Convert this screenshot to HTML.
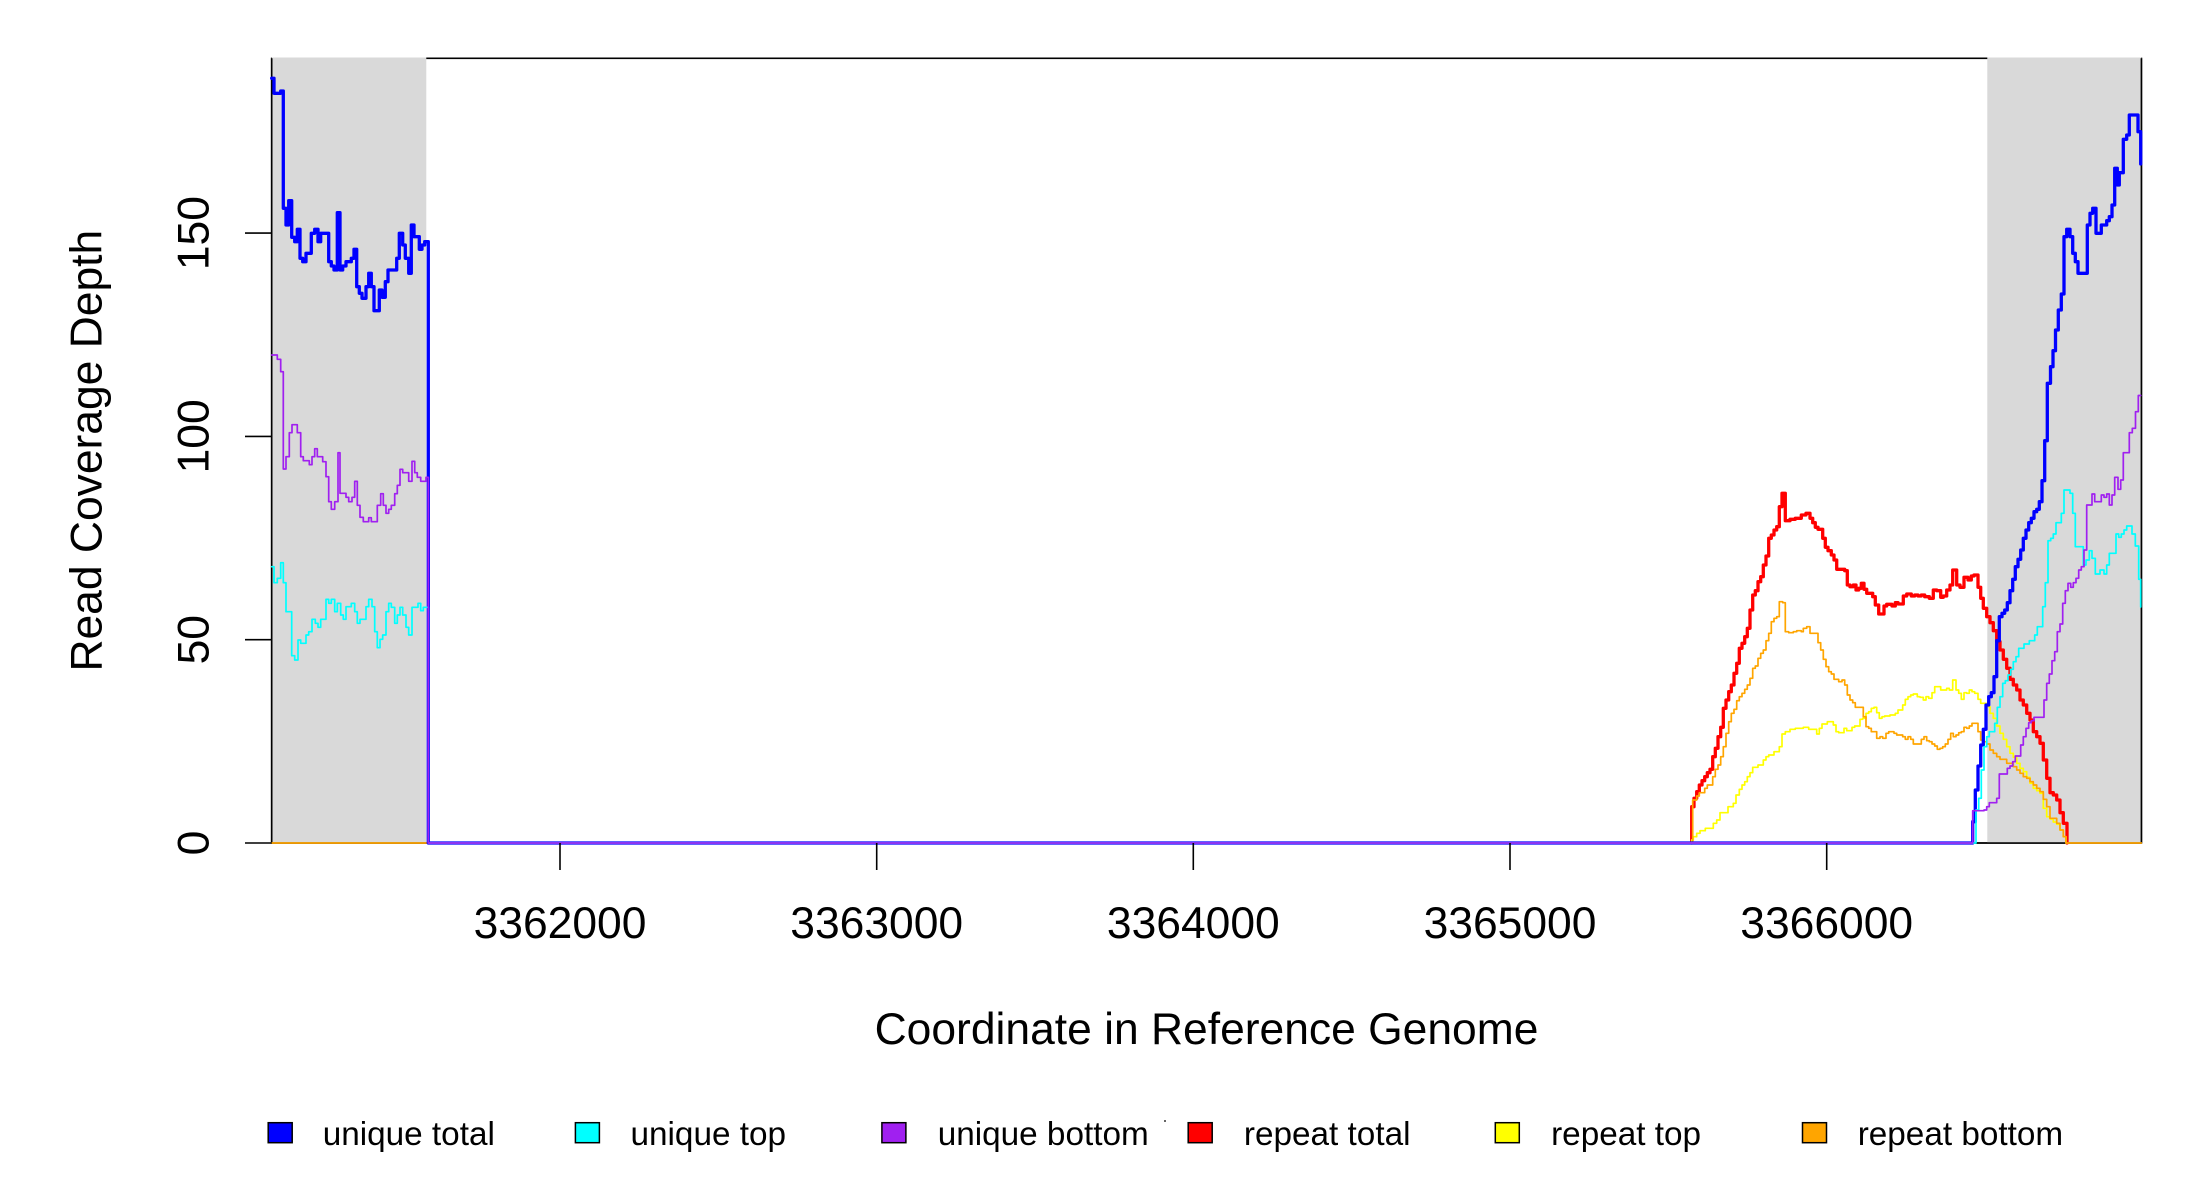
<!DOCTYPE html>
<html>
<head>
<meta charset="utf-8">
<style>
html,body{margin:0;padding:0;background:#fff;}
svg{display:block;}
text{font-family:"Liberation Sans",Arial,sans-serif;fill:#000;}
</style>
</head>
<body>
<svg width="2200" height="1200" viewBox="0 0 2200 1200" xmlns="http://www.w3.org/2000/svg">
<rect x="0" y="0" width="2200" height="1200" fill="#fff"/>

<!-- plot box -->
<rect x="271.7" y="58.3" width="1869.7" height="784.7" fill="none" stroke="#000" stroke-width="1.6"/>

<!-- gray regions -->
<rect x="271.7" y="57.5" width="154.6" height="785.5" fill="#d9d9d9"/>
<rect x="1987.3" y="57.5" width="154.1" height="785.5" fill="#d9d9d9"/>
<line x1="271.7" y1="58.3" x2="271.7" y2="843" stroke="#000" stroke-width="1.6"/>
<line x1="2141.4" y1="58.3" x2="2141.4" y2="843" stroke="#000" stroke-width="1.6"/>
<line x1="271.7" y1="843" x2="2141.4" y2="843" stroke="#000" stroke-width="1.6"/>

<g fill="none" stroke-linejoin="round" stroke-linecap="round">
<!-- repeat total (red) -->
<path stroke="#ff0000" stroke-width="3.3" d="M1691.7,843 V806.7 H1694 V798.3 H1696.7 V791.7 H1699.3 V785 H1702 V780.7 H1704.7 V776.7 H1707.3 V772.7 H1710 V769.3 H1712.7 V756.7 H1715.3 V748.3 H1718 V736.7 H1720.7 V727.3 H1723.3 V708.3 H1726 V700 H1728.7 V691.7 H1731.3 V685 H1734 V673.3 H1736.7 V663.3 H1739.3 V648.3 H1742 V643.3 H1744.7 V636.7 H1747.3 V628.3 H1750 V610 H1752.7 V595 H1755.3 V590.7 H1758 V581.7 H1760.7 V576.7 H1763.3 V565 H1766 V556 H1768.7 V538.3 H1771.3 V535 H1774 V530 H1776.7 V526.7 H1779.3 V506.7 H1782 V493.3 H1785.3 V520.7 H1790 V519.3 H1795.3 V518.3 H1801.3 V515 H1806 V513.3 H1810 V518.3 H1812.7 V522.7 H1815.3 V527.3 H1818 V529.3 H1822.7 V538.3 H1825.3 V547.3 H1828 V550.7 H1831.3 V555 H1834 V560 H1836.7 V569.3 H1844.7 V570.7 H1847.3 V585 H1850 V586.7 H1853.3 V585 H1856 V590 H1858.7 V588.3 H1861.3 V583.3 H1864 V589.3 H1866.7 V593.3 H1872.7 V596.7 H1875.3 V605 H1878.7 V614 H1884 V606 H1886.7 V604.3 H1892 V606 H1895.3 V602.7 H1898 V604 H1903.3 V596 H1906.7 V594 H1911.3 V596 H1914.7 V595 H1918 V596 H1921.3 V595 H1924.7 V596.7 H1929.3 V598.3 H1933.3 V590 H1936.7 V590.7 H1940.7 V597.3 H1943.3 V596 H1946.7 V590 H1950 V585 H1952.7 V570 H1956.7 V585 H1960 V587.3 H1964 V577.3 H1968 V580 H1971.3 V576 H1974 V575 H1978 V587.3 H1980.7 V598.3 H1983.3 V608.3 H1986.7 V616.7 H1990 V622.7 H1993.3 V630.7 H1996.7 V641.7 H2000 V650 H2003.3 V659.3 H2006.7 V668.3 H2010 V679.3 H2013.3 V685 H2016.7 V690 H2020 V700 H2023.3 V705 H2026.7 V713.3 H2030 V720 H2033.3 V731.7 H2036.7 V736.7 H2040 V743.3 H2043.3 V760 H2046.7 V778.3 H2050 V792.7 H2053.3 V795 H2056.7 V800 H2060 V812.7 H2063.3 V823.3 H2067 V843"/>

<!-- repeat top (yellow) -->
<path stroke="#ffff00" stroke-width="1.7" d="M1691.7,843 V840 H1693.3 V836.7 H1696.7 V833.3 H1700 V830.7 H1705.3 V828.3 H1713.3 V823.3 H1716.7 V820 H1720 V812.7 H1728 V806.7 H1733.3 V803.3 H1736 V795 H1739.3 V789.3 H1742 V785 H1744.7 V781.7 H1747.3 V776.7 H1750 V772.7 H1752.7 V767.3 H1758 V765 H1763.3 V760 H1766 V756.7 H1768.7 V755 H1774 V751.7 H1779.3 V746.7 H1782 V734 H1785.3 V731.7 H1790 V729.3 H1795.3 V728.3 H1803.3 V727.3 H1808.7 V729.3 H1816.7 V734 H1819.3 V728.3 H1822 V724 H1827.3 V721.7 H1833.3 V725 H1836 V731.7 H1838.7 V732.7 H1844 V728.3 H1846.7 V730.7 H1852 V727.3 H1854.7 V726 H1860 V719.3 H1862.7 V718.3 H1866 V713.3 H1868.7 V711.7 H1871.3 V708.3 H1874 V707.3 H1876.7 V712.7 H1879.3 V718.3 H1882 V716.7 H1884.7 V716 H1890 V715 H1895.3 V713.3 H1898 V710 H1902.7 V705 H1905.3 V699.3 H1908 V696.7 H1910.7 V695 H1913.3 V694 H1917.3 V696.7 H1920 V697.3 H1923.3 V700 H1926 V696.7 H1928.7 V698.3 H1932 V692.7 H1934.7 V686.7 H1940.7 V690 H1946.7 V688.3 H1949.3 V690 H1952.7 V680 H1956 V690 H1958.7 V693.3 H1961.3 V699.3 H1964 V692.7 H1966.7 V693.3 H1969.3 V690 H1972 V691.7 H1974.7 V693.3 H1978 V699.3 H1980.7 V703.3 H1986.7 V706.7 H1990 V713.3 H1993.3 V718.3 H1996.7 V726 H2000 V733.3 H2003.3 V739.3 H2006.7 V746.7 H2010 V753.3 H2013.3 V757.3 H2016.7 V763.3 H2020 V768.3 H2023.3 V771.7 H2026.7 V777.3 H2030 V783.3 H2033.3 V788.3 H2036.7 V790.7 H2040 V793.3 H2043.3 V808.3 H2046.7 V816.7 H2050 V819 H2053.3 V822 H2056.7 V824.3 H2060 V830 H2063.3 V836.7 H2066 V843"/>

<!-- repeat bottom (orange) -->
<path stroke="#ffa500" stroke-width="1.7" d="M271.7,843 H1692.7 V800 H1696.7 V796 H1699.3 V792.7 H1704.7 V788.3 H1707.3 V785 H1712.7 V776.7 H1715.3 V769.3 H1718 V765 H1720.7 V756.7 H1723.3 V746.7 H1726 V733.3 H1728.7 V721.7 H1731.3 V713.3 H1734 V709.3 H1736.7 V700.7 H1739.3 V696.7 H1742 V693.3 H1744.7 V689.3 H1747.3 V685 H1750 V678.3 H1752.7 V668.3 H1755.3 V666 H1758 V658.3 H1760.7 V653.3 H1763.3 V650 H1766 V640.7 H1768.7 V633.3 H1771.3 V621.7 H1774 V618.3 H1776.7 V616.7 H1779.3 V601.7 H1782.7 V602.7 H1785.3 V631.7 H1788.7 V632.7 H1793.3 V631.7 H1796.7 V630.7 H1801.3 V631.7 H1803.3 V628.3 H1806.7 V626.7 H1810 V633.3 H1818 V642.7 H1820.7 V650 H1823.3 V659.3 H1826 V666.7 H1828.7 V671.7 H1831.3 V674 H1834 V679.3 H1838.7 V681.7 H1842 V680 H1844.7 V685 H1847.3 V695 H1850 V700 H1852.7 V702.7 H1855.3 V707.3 H1863.3 V716.7 H1866 V726.7 H1868.7 V728.3 H1871.3 V731.7 H1876.7 V738.3 H1880 V736.7 H1882.7 V738.3 H1886 V733.3 H1888.7 V731.7 H1894 V733.3 H1896.7 V735 H1902.7 V736.7 H1905.3 V739.3 H1908 V736.7 H1910.7 V739.3 H1913.3 V744 H1921.3 V739.3 H1924 V736.7 H1926.7 V740.7 H1929.3 V741.7 H1932 V744 H1934.7 V746 H1937.3 V749.3 H1940 V748.3 H1942.7 V746.7 H1945.3 V744 H1948 V739.3 H1950.7 V733.3 H1953.3 V736.7 H1956 V735 H1958.7 V732.7 H1961.3 V731.7 H1964 V727.3 H1966.7 V728.3 H1969.3 V726 H1972 V723.3 H1978 V731.7 H1980.7 V740 H1983.3 V741.7 H1986.7 V744 H1990 V750 H1993.3 V753.3 H1996.7 V756.7 H2000 V759.3 H2006.7 V763.3 H2013.3 V766.7 H2016.7 V770 H2020 V773.3 H2023.3 V776.7 H2026.7 V778.3 H2030 V781.7 H2033.3 V785 H2036.7 V788.3 H2040 V791.7 H2043.3 V799.3 H2046.7 V806.7 H2050 V818.3 H2056.7 V823.3 H2060 V830 H2063.3 V836.7 H2066 V843 H2141.4"/>

<!-- unique total (blue) -->
<path stroke="#0000ff" stroke-width="3.3" d="M271.7,78.3 H274 V93.3 H280.7 V91 H283.3 V208.3 H286 V225 H288.7 V200.7 H291.7 V237.3 H294.7 V241.7 H297.3 V229.3 H300 V258.3 H302.7 V261.7 H306 V253.3 H311.3 V233.3 H314.7 V229.3 H318 V241.7 H320.7 V233.3 H328.7 V261.7 H331.3 V266 H334 V270 H337.3 V212.7 H340 V270 H342.7 V266 H346 V261.7 H351.3 V258.3 H354 V249.3 H356.7 V286.7 H359.3 V293.3 H362 V298.3 H366 V286.7 H368.7 V273.3 H371.3 V286.7 H374 V310.7 H379.3 V290 H382 V297.3 H385.3 V281.7 H388 V270 H396.7 V258.3 H399.3 V233.3 H402.7 V245 H405.3 V258.3 H408.7 V273.3 H411.3 V225 H414 V236.7 H419.3 V249.3 H422 V245 H424.7 V241.7 H428.3 V843 H1972.7 V821.7 H1975.3 V790 H1978 V766 H1980.7 V745 H1983.3 V729.3 H1986 V705 H1988.7 V696.7 H1991.3 V692.7 H1994 V676.7 H1996.7 V640.7 H1999.3 V616.7 H2002 V613.3 H2004.7 V610 H2007.3 V602.7 H2010 V590.7 H2012.7 V579.3 H2015.3 V566.7 H2018 V559.3 H2020.7 V550 H2023.3 V538.3 H2026 V530 H2028.7 V522.7 H2031.3 V518.3 H2034 V511.7 H2036.7 V509.3 H2039.3 V501.7 H2042 V480.7 H2044.7 V440.7 H2047.3 V383.3 H2050.5 V366.7 H2053 V350.7 H2055.5 V330 H2058.3 V310 H2061.3 V294 H2064 V236.7 H2066.7 V229.3 H2070 V236.7 H2072.7 V253.3 H2075.3 V261.7 H2078 V273.3 H2087.3 V225 H2090 V213.3 H2092.7 V208.3 H2096 V233.3 H2101.3 V225 H2106.7 V220.7 H2109.3 V216.7 H2112 V205 H2114.7 V168.3 H2117.3 V185 H2119.3 V172.7 H2123.3 V139.3 H2126.7 V135 H2129.3 V115 H2138 V131.7 H2140.7 V164"/>

<!-- unique top (cyan) -->
<path stroke="#00ffff" stroke-width="1.7" d="M271.7,566.7 H274 V582.7 H277.3 V578.3 H280.7 V562.7 H283.3 V582.7 H286 V611.7 H291.7 V655.7 H294.7 V660 H298 V640 H300.7 V643.3 H306 V635 H308.7 V631.7 H312 V619.3 H315.3 V623.3 H318 V627.3 H320.7 V619.3 H326 V599.3 H328.7 V603.3 H331.3 V599.3 H334.7 V611.7 H337.3 V603.3 H340.7 V615 H343.3 V619.3 H346 V606.7 H351.3 V603.3 H354.7 V611.7 H357.3 V623.3 H360 V619.3 H366 V606.7 H368.7 V599.3 H372 V606.7 H374.7 V631.7 H377.3 V647.7 H380 V639.3 H382.7 V635 H386 V611.7 H388.7 V603.3 H391.3 V607.3 H394.7 V623.3 H397.3 V615 H400 V607.3 H402.7 V615 H406 V627.3 H408.7 V635 H412 V607.3 H418 V603.3 H420.7 V610.7 H423.3 V607.3 H428.3 V843 H1976 V810 H1978.7 V798.3 H1981.3 V770 H1984 V746.7 H1986.7 V736.7 H1989.3 V731.7 H1994.7 V723.3 H1997.3 V707.3 H2000 V696.7 H2002.7 V683.3 H2005.3 V680.7 H2008 V675 H2010.7 V669.3 H2013.3 V661.7 H2016 V656.7 H2018.7 V648.3 H2024 V644 H2029.3 V640.7 H2034.7 V635 H2037.3 V626.7 H2042.7 V606.7 H2045.3 V582.7 H2048 V540.7 H2050.7 V538.3 H2053.3 V534 H2056 V522.7 H2061.3 V513.3 H2064 V490 H2070 V493.3 H2072.7 V513.3 H2075.3 V546.7 H2083.3 V565 H2086 V560 H2089.3 V550.7 H2092 V558.3 H2095.3 V574 H2100 V570 H2104 V574 H2106.7 V565 H2109.3 V553.3 H2116 V534 H2118.7 V537.3 H2121.3 V534 H2124 V530 H2126.7 V526 H2132 V534 H2135.3 V546 H2138.7 V579.3 H2140.7 V607"/>

<!-- unique bottom (purple) -->
<path stroke="#a020f0" stroke-width="1.7" d="M271.7,355 H277.3 V359.3 H280.7 V371.7 H283.3 V469 H286 V456.7 H289.3 V432.7 H292 V424.7 H297.3 V432.7 H300.7 V456.7 H303.3 V460.7 H309.3 V464.7 H312 V456.7 H314.7 V448.7 H317.3 V456.7 H322.7 V461.7 H326 V476.7 H328.7 V501.7 H331.3 V509.3 H334.7 V501.7 H338 V452.7 H340 V493.3 H346 V497.3 H348.7 V501.7 H352 V497.3 H354.7 V481.3 H357.3 V505.3 H360 V517.3 H363.3 V521.7 H368.7 V517.7 H371.3 V521.7 H377.3 V505.3 H380.7 V493.7 H383.3 V505.3 H386 V513.3 H388.7 V509.3 H391.3 V505.3 H394.7 V493.7 H397.3 V485.3 H400 V469.3 H402.7 V472.7 H408.7 V481.3 H412 V461.3 H414.7 V472.7 H417.3 V477.3 H420.7 V481.3 H426 V477.3 H428.3 V843 H1972.7 V810.7 H1984 V810 H1986.7 V806.7 H1989.3 V802.7 H1996.7 V798.3 H1999.3 V774 H2007.3 V768.3 H2010 V766 H2012.7 V761.7 H2015.3 V756 H2020.7 V745 H2023.3 V736.7 H2026 V728.3 H2028.7 V722.7 H2031.3 V720.7 H2034 V717.3 H2044 V700 H2046.7 V683.3 H2049.3 V674 H2052 V660.7 H2054.7 V651.7 H2057.3 V631.7 H2060 V624 H2062.7 V603.3 H2065.3 V590.7 H2068 V583.3 H2070.7 V587.3 H2073.3 V582.7 H2076 V578.3 H2078.7 V570 H2081.3 V566.7 H2084 V550 H2086.7 V505 H2092 V494 H2094.7 V501.7 H2101.3 V495 H2104 V497.3 H2106.7 V494 H2109.3 V505 H2112 V495 H2114.7 V477.3 H2118 V489.3 H2120.7 V480 H2123.3 V452.7 H2129.3 V432.7 H2132.3 V428.3 H2135.5 V411.7 H2138.3 V395.5 H2140.7"/>
</g>

<!-- x ticks -->
<g stroke="#000" stroke-width="1.6">
<line x1="560" y1="843" x2="560" y2="870"/>
<line x1="876.7" y1="843" x2="876.7" y2="870"/>
<line x1="1193.3" y1="843" x2="1193.3" y2="870"/>
<line x1="1510" y1="843" x2="1510" y2="870"/>
<line x1="1826.7" y1="843" x2="1826.7" y2="870"/>
<!-- y ticks -->
<line x1="245" y1="843" x2="271.7" y2="843"/>
<line x1="245" y1="639.7" x2="271.7" y2="639.7"/>
<line x1="245" y1="436.4" x2="271.7" y2="436.4"/>
<line x1="245" y1="233.1" x2="271.7" y2="233.1"/>
</g>

<!-- x tick labels -->
<g font-size="44.4" text-anchor="middle">
<text x="560" y="938">3362000</text>
<text x="876.7" y="938">3363000</text>
<text x="1193.3" y="938">3364000</text>
<text x="1510" y="938">3365000</text>
<text x="1826.7" y="938">3366000</text>
<text transform="translate(208.3,843) rotate(-90)">0</text>
<text transform="translate(208.3,639.7) rotate(-90)">50</text>
<text transform="translate(208.3,436.4) rotate(-90)">100</text>
<text transform="translate(208.3,233.1) rotate(-90)">150</text>
<text x="1206.5" y="1044">Coordinate in Reference Genome</text>
<text transform="translate(101.7,450.7) rotate(-90)">Read Coverage Depth</text>
</g>

<!-- legend -->
<g stroke="#000" stroke-width="1.5">
<rect x="268.2" y="1122.7" width="24" height="20" fill="#0000ff"/>
<rect x="575.4" y="1122.7" width="24" height="20" fill="#00ffff"/>
<rect x="881.9" y="1122.7" width="24" height="20" fill="#a020f0"/>
<rect x="1188.2" y="1122.7" width="24" height="20" fill="#ff0000"/>
<rect x="1495.3" y="1122.7" width="24" height="20" fill="#ffff00"/>
<rect x="1802.5" y="1122.7" width="24" height="20" fill="#ffa500"/>
</g>
<rect x="1164" y="1120" width="2" height="2" fill="#666"/>
<g font-size="33.3">
<text x="322.7" y="1145">unique total</text>
<text x="630.5" y="1145">unique top</text>
<text x="937.7" y="1145">unique bottom</text>
<text x="1243.9" y="1145">repeat total</text>
<text x="1551.1" y="1145">repeat top</text>
<text x="1857.7" y="1145">repeat bottom</text>
</g>
</svg>
</body>
</html>
